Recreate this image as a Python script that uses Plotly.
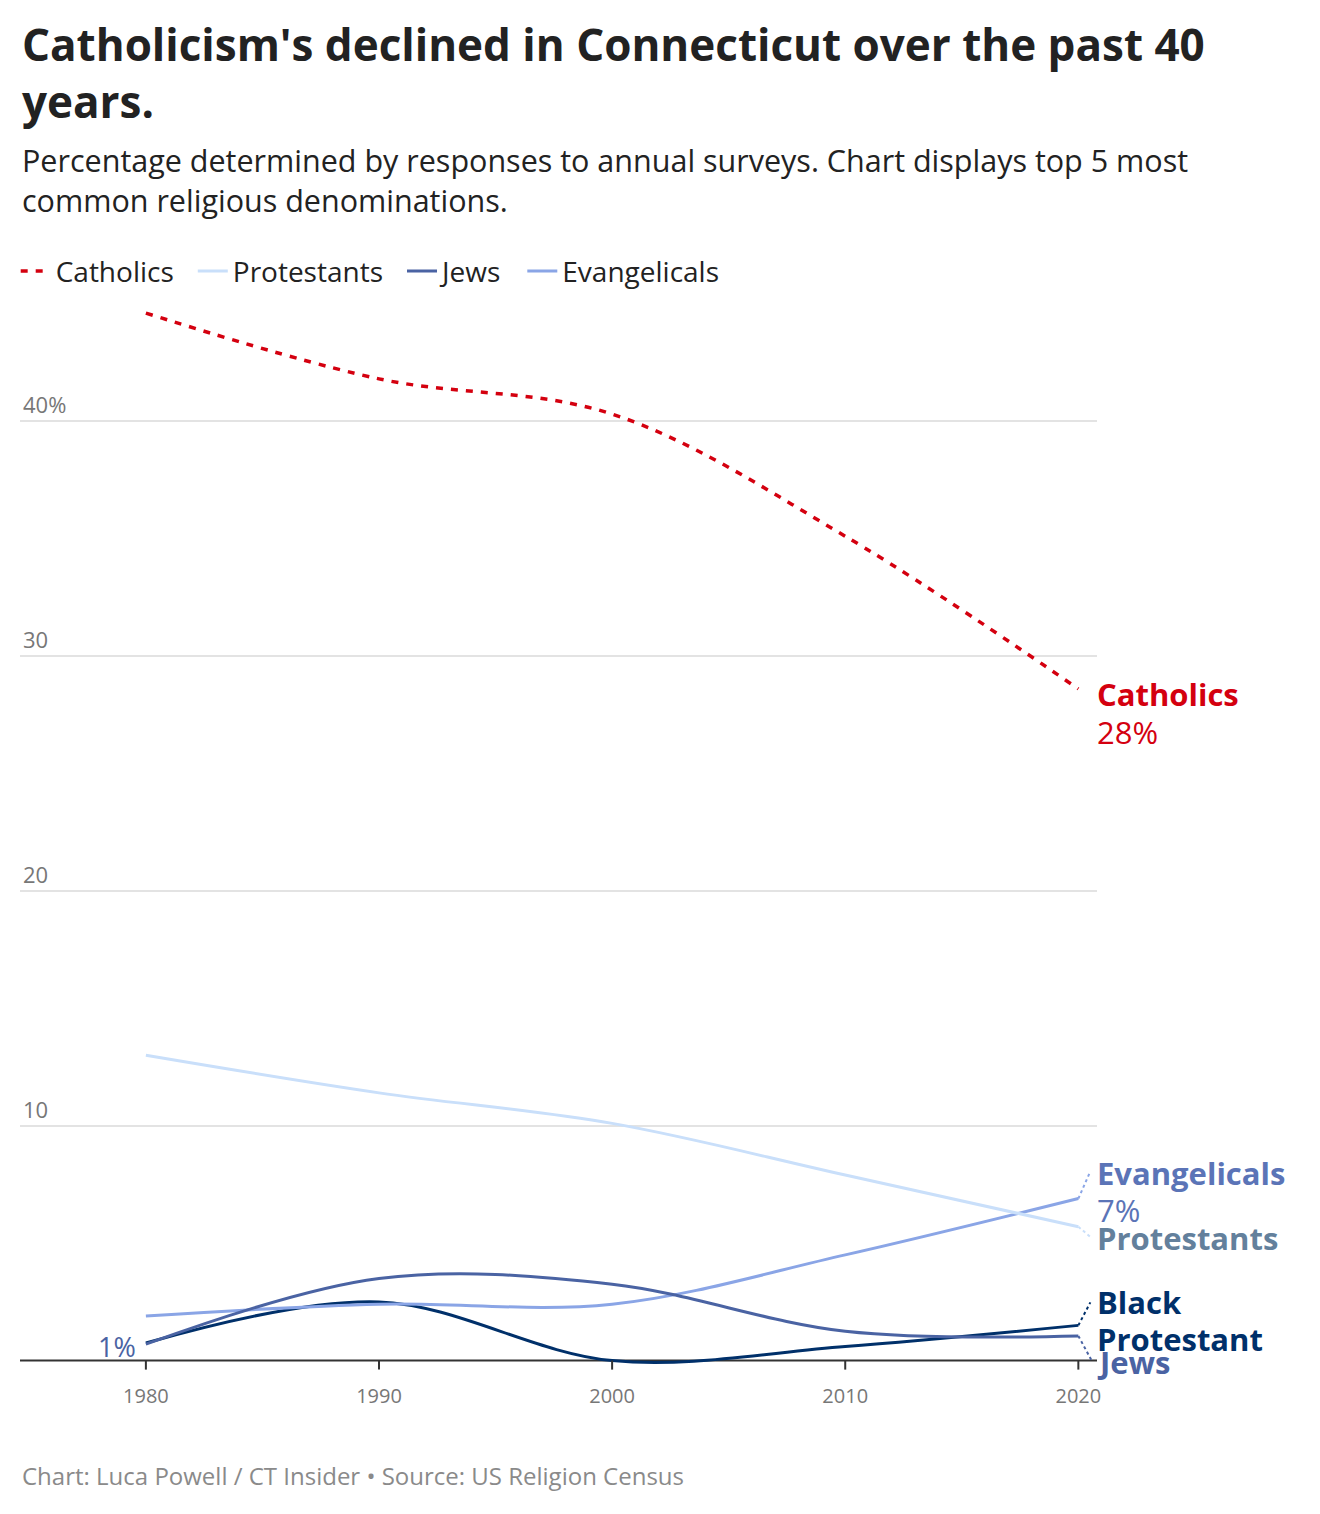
import plotly.graph_objects as go

# values (percent of population)
years = [1980, 1990, 2000, 2010, 2020]
catholics = [44.6, 41.8, 40.3, 35.1, 28.6]
protestants = [13.0, 11.4, 10.1, 7.9, 5.7]
jews = [0.7, 3.5, 3.25, 1.25, 1.05]
evangelicals = [1.9, 2.4, 2.4, 4.5, 6.9]
black_protestant = [0.75, 2.5, 0.0, 0.6, 1.5]

series_names = ["Catholics", "Protestants", "Jews", "Evangelicals", "Black Protestant"]
series_values = [catholics, protestants, jews, evangelicals, black_protestant]
series_colors = ["#d4000f", "#c9dffa", "#4a63a3", "#8aa5e6", "#00306a"]

x_ticks = [1980, 1990, 2000, 2010, 2020]
y_ticks = [10, 20, 30, 40]
y_ticktext = ["10", "20", "30", "40%"]

FONT = "Open Sans"
W, H = 1320, 1514
OFF = 8  # page body margin
Y_RANGE = [-0.4, 45.2]
PLOT_TOP, PLOT_BOTTOM = 298.8 - OFF, 1370.4 - OFF


def py(pixel):
    # page pixel (from top) -> paper y
    return (PLOT_BOTTOM - (pixel - OFF)) / (PLOT_BOTTOM - PLOT_TOP)


fig = go.Figure()

# black protestant first so the others sit on top of it
order = [4, 3, 2, 1, 0]
for i in order:
    fig.add_trace(go.Scatter(
        x=years, y=series_values[i], mode="lines",
        name=series_names[i] + "\u2002",  # en space widens the gap between legend items
        line=dict(color=series_colors[i], width=3.5 if i == 0 else 3,
                  shape="spline", smoothing=1,
                  dash="7px,8px" if i == 0 else "solid"),
        showlegend=(i != 4), legendrank=i, hoverinfo="skip",
    ))

# end-of-line labels, one line each: (text, series end value, pixel offset, colour)
end_labels = [
    ("<b>Catholics</b>", catholics[-1], 5, "#d4000f"),
    ("28%", catholics[-1], 43, "#d4000f"),
    ("<b>Evangelicals</b>", evangelicals[-1], -26, "#5b74b7"),
    ("7%", evangelicals[-1], 11, "#5b74b7"),
    ("<b>Protestants</b>", protestants[-1], 11, "#63809c"),
    ("<b>Black</b>", black_protestant[-1], -23, "#00306a"),
    ("<b>Protestant</b>", black_protestant[-1], 14, "#00306a"),
    ("<b>Jews</b>", jews[-1], 26, "#4a63a3"),
]
for text, val, shift, col in end_labels:
    fig.add_annotation(x=years[-1], y=val, xref="x", yref="y", text=text,
                       showarrow=False, xanchor="left", yanchor="middle", align="left",
                       xshift=17, yshift=-shift,
                       font=dict(family=FONT, size=31, color=col))

# dotted leader lines from line ends to labels
leaders = [
    (evangelicals[-1], 11, 25, "#8aa5e6"),
    (protestants[-1], 13, -11, "#c9dffa"),
    (black_protestant[-1], 12, 23, "#00306a"),
    (jews[-1], 13, -24, "#4a63a3"),
]
for val, dx, dy, col in leaders:
    fig.add_shape(type="line", xref="x", yref="y", xsizemode="pixel", ysizemode="pixel",
                  xanchor=years[-1], yanchor=val, x0=0, x1=dx, y0=0, y1=dy,
                  line=dict(color=col, width=2, dash="dot"))

fig.add_annotation(x=years[0], y=jews[0], xref="x", yref="y", text="1%", showarrow=False,
                   xanchor="right", yanchor="middle", xshift=-8, yshift=-2,
                   font=dict(family=FONT, size=27, color="#4a63a3"))

# baseline and x ticks at zero
fig.add_shape(type="line", xref="paper", yref="y", x0=0, x1=1, y0=0, y1=0,
              line=dict(color="#333333", width=2), layer="below")
for yr in x_ticks:
    fig.add_shape(type="line", xref="x", yref="y", ysizemode="pixel", yanchor=0,
                  x0=yr, x1=yr, y0=0, y1=-9, line=dict(color="#333333", width=2))

# title, subtitle, footer
fig.add_annotation(xref="paper", yref="paper", x=0, y=py(72), xanchor="left",
                   yanchor="middle", align="left", showarrow=False,
                   text="<b>Catholicism's declined in Connecticut over the past 40<br>years.</b>",
                   font=dict(family=FONT, size=44, color="#222222"))
fig.add_annotation(xref="paper", yref="paper", x=0, y=py(180), xanchor="left",
                   yanchor="middle", align="left", showarrow=False,
                   text="Percentage determined by responses to annual surveys. Chart displays top 5 most"
                        "<br>common religious denominations.",
                   font=dict(family=FONT, size=30.5, color="#222222"))
fig.add_annotation(xref="paper", yref="paper", x=0, y=py(1476), xanchor="left", yanchor="middle",
                   align="left", showarrow=False,
                   text="Chart: Luca Powell / CT Insider \u2022 Source: US Religion Census",
                   font=dict(family=FONT, size=24, color="#8a8a8a"))

fig.update_layout(
    width=W, height=H,
    margin=dict(l=20 - OFF, r=W - 1097 + OFF, t=PLOT_TOP, b=H - PLOT_BOTTOM, pad=0,
                autoexpand=False),
    plot_bgcolor="white", paper_bgcolor="white",
    font=dict(family=FONT, color="#222222"),
    showlegend=True,
    legend=dict(orientation="h", x=-0.004, xanchor="left", y=py(271), yanchor="middle",
                font=dict(family=FONT, size=28, color="#222222"),
                itemwidth=30, traceorder="normal", bgcolor="rgba(0,0,0,0)"),
    xaxis=dict(range=[1974.6, 2020.8], tickvals=x_ticks, showgrid=False, zeroline=False,
               showline=False, ticks="", ticklabelstandoff=12,
               tickfont=dict(family=FONT, size=20, color="#777777")),
    yaxis=dict(range=Y_RANGE, tickvals=y_ticks, ticktext=y_ticktext, showgrid=True,
               gridcolor="#e3e3e3", gridwidth=2, zeroline=False, showline=False, ticks="",
               ticklabelposition="inside top",
               tickfont=dict(family=FONT, size=22, color="#777777")),
)

fig.write_html("out.html")
